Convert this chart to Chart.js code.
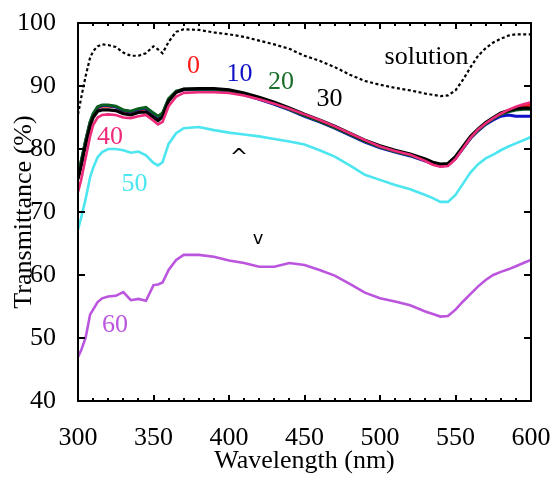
<!DOCTYPE html>
<html>
<head>
<meta charset="utf-8">
<script src="https://cdn.jsdelivr.net/npm/chart.js@4/dist/chart.umd.min.js"></script>
<style>
html,body{margin:0;padding:0;background:#fff;}
#wrap{position:relative;width:554px;height:477px;}
</style>
</head>
<body>
<div id="wrap"><canvas id="c" width="554" height="477"></canvas></div>
<script>
const wavelengths = [300,302,305,308,310,313,316,320,325,330,335,340,345,350,353,356,360,365,370,380,390,400,410,420,430,440,450,460,470,480,490,500,510,520,530,535,540,545,550,555,560,565,570,575,580,585,590,595,600];

const solution = [85.5,88,91.5,94.5,95.5,96.3,96.6,96.5,96.2,95.3,94.8,94.8,95.2,96.3,95.8,95.2,97,98.6,99,98.9,98.5,98.2,97.8,97.2,96.6,95.9,94.8,94,93,91.8,90.8,90.2,89.7,89.3,88.8,88.6,88.4,88.5,89.3,91,93,94.8,96,96.9,97.5,98,98.2,98.2,98.2];

const s0 = [75.5,77.5,81,84,85.3,86.5,86.8,86.8,86.7,86,85.8,86.2,86.4,85.5,85,85.6,87.8,89,89.4,89.4,89.4,89.2,88.7,88,87.2,86.3,85.3,84.4,83.4,82.3,81.2,80.3,79.6,79,78.2,77.7,77.4,77.5,78.6,80.2,81.8,83,84,84.8,85.5,86,86.5,86.8,87];
const s10 = [75.8,77.8,81.2,84.2,85.5,86.6,86.9,86.9,86.7,86.1,85.9,86.3,86.5,85.6,85.1,85.6,87.9,89.1,89.4,89.4,89.4,89.2,88.6,87.9,87.1,86.2,85.2,84.3,83.3,82.2,81.1,80.2,79.5,78.9,78.1,77.6,77.3,77.4,78.5,80.1,81.7,82.9,83.9,84.6,85.2,85.4,85.2,85.2,85.2];
const s20 = [76,78,81.3,84.3,85.6,86.7,87,87,86.8,86.2,86,86.4,86.6,85.7,85.2,85.7,88,89.2,89.5,89.5,89.5,89.3,88.7,88,87.2,86.3,85.3,84.4,83.4,82.3,81.2,80.3,79.6,79,78.2,77.7,77.4,77.5,78.6,80.2,81.8,83,84,84.8,85.5,85.9,86.2,86.3,86.3];
const s30 = [75.2,77.2,80.6,83.6,85,86,86.2,86.2,86.1,85.6,85.4,85.8,85.9,85,84.5,85.1,87.6,89,89.5,89.6,89.6,89.4,88.9,88.2,87.4,86.5,85.5,84.6,83.6,82.5,81.4,80.5,79.8,79.2,78.4,77.9,77.6,77.7,78.8,80.4,82,83.2,84.2,85,85.7,86.1,86.4,86.5,86.5];
const s40 = [73.2,75,78.5,82,83.8,85,85.4,85.5,85.4,85,84.9,85.2,85.4,84.5,83.9,84.3,86.8,88.3,88.9,89,89,88.9,88.5,87.9,87.2,86.4,85.5,84.6,83.6,82.5,81.4,80.4,79.7,79.1,78.1,77.5,77.2,77.3,78.4,80.1,81.8,83.1,84.1,84.9,85.6,86.2,86.7,87.1,87.4];
const s50 = [67.2,69,72,75.5,77,78.7,79.5,80,80,79.8,79.4,79.6,79,77.8,77.4,77.9,80.8,82.5,83.3,83.5,83,82.6,82.3,82,81.6,81.2,80.7,79.8,78.8,77.4,75.9,75.1,74.3,73.6,72.7,72.2,71.6,71.6,72.7,74.5,76.3,77.6,78.5,79.1,79.8,80.4,80.9,81.4,81.9];
const s60 = [47,48,50,53.7,54.5,55.7,56.3,56.6,56.7,57.3,56,56.2,55.9,58.4,58.5,58.8,60.8,62.4,63.2,63.2,62.9,62.3,61.9,61.3,61.3,61.9,61.6,60.8,59.9,58.6,57.2,56.3,55.8,55.2,54.2,53.8,53.4,53.5,54.5,55.8,57,58.2,59.2,60,60.5,60.9,61.4,61.9,62.4];

const xMin = 300, xMax = 600, yMin = 40, yMax = 100;
const xTicks = [300,350,400,450,500,550,600];
const xMinorTicks = [310,320,330,340,360,370,380,390,410,420,430,440,460,470,480,490,510,520,530,540,560,570,580,590];
const yTicks = [40,50,60,70,80,90,100];

const labelTexts = ['0','10','20','30','solution','40','50','60','^','v'];
const labelX = [376.5,407,434.4,466.6,530.8,321.2,337.4,324.5,406.6,419.2];
const labelY = [93.1,91.8,90.6,87.9,94.5,81.8,74.4,52.0,78.6,65.6];
const labelColors = ['#ff1a1a','#1010c8','#1a6e2a','#000000','#000000','#ee2a7b','#4de6f0','#bb55dd','#000000','#000000'];

function pts(vals){ return wavelengths.map((w,i)=>({x:w,y:vals[i]})); }
const frame = [{x:xMin,y:yMin},{x:xMax,y:yMin},{x:xMax,y:yMax},{x:xMin,y:yMax},{x:xMin,y:yMin}];

const serif = "'Liberation Serif','Times New Roman',serif";

const decorPlugin = {
  id:'decor',
  afterDraw(chart){
    const ctx = chart.ctx;
    const x = chart.scales.x, y = chart.scales.y;
    const L = Math.round(x.getPixelForValue(xMin));
    const R = Math.round(x.getPixelForValue(xMax));
    const T = Math.round(y.getPixelForValue(yMax));
    const B = Math.round(y.getPixelForValue(yMin));
    ctx.save();
    ctx.fillStyle = 'black';
    xTicks.forEach(v => {
      const px = Math.round(x.getPixelForValue(v));
      ctx.fillRect(px - 1, B - 6, 2, 6);
      ctx.fillRect(px - 1, T, 2, 6);
    });
    xMinorTicks.forEach(v => {
      const px = Math.round(x.getPixelForValue(v));
      ctx.fillRect(px - 1, B - 3, 2, 3);
      ctx.fillRect(px - 1, T, 2, 3);
    });
    yTicks.forEach(v => {
      const py = Math.round(y.getPixelForValue(v));
      ctx.fillRect(L, py - 1, 7, 2);
      ctx.fillRect(R - 7, py - 1, 7, 2);
    });
    ctx.textAlign = 'center';
    ctx.textBaseline = 'middle';
    labelTexts.forEach((t, i) => {
      if (t === '^') ctx.font = "22px 'DejaVu Sans',sans-serif";
      else if (t === 'v') ctx.font = "18px 'DejaVu Sans',sans-serif";
      else ctx.font = "26px " + serif;
      ctx.fillStyle = labelColors[i];
      ctx.fillText(t, x.getPixelForValue(labelX[i]), y.getPixelForValue(labelY[i]));
    });
    ctx.restore();
  }
};

const base = {fill:false, pointRadius:0, tension:0, showLine:true};
new Chart(document.getElementById('c'), {
  type:'scatter',
  data:{
    datasets:[
      Object.assign({}, base, {label:'frame', data:frame, borderColor:'#000', borderWidth:2, clip:false}),
      Object.assign({}, base, {label:'40', data:pts(s40), borderColor:'#ee2a7b', borderWidth:2.6}),
      Object.assign({}, base, {label:'30', data:pts(s30), borderColor:'#000', borderWidth:3.2}),
      Object.assign({}, base, {label:'20', data:pts(s20), borderColor:'#0a5e1e', borderWidth:3}),
      Object.assign({}, base, {label:'10', data:pts(s10), borderColor:'#1010c8', borderWidth:3}),
      Object.assign({}, base, {label:'0', data:pts(s0), borderColor:'#ff1a1a', borderWidth:3}),
      Object.assign({}, base, {label:'50', data:pts(s50), borderColor:'#4de6f0', borderWidth:2.6}),
      Object.assign({}, base, {label:'60', data:pts(s60), borderColor:'#bb55dd', borderWidth:2.6}),
      Object.assign({}, base, {label:'solution', data:pts(solution), borderColor:'#000', borderWidth:2.2, borderDash:[3,2.5]})
    ]
  },
  options:{
    responsive:false,
    animation:false,
    devicePixelRatio:1,
    layout:{padding:{top:23,right:23,left:0,bottom:0}},
    plugins:{legend:{display:false}, tooltip:{enabled:false}},
    scales:{
      x:{
        type:'linear', min:xMin, max:xMax,
        afterBuildTicks(s){ s.ticks = xTicks.map(v=>({value:v})); },
        afterFit(s){ s.height = 76; s.paddingLeft = 0; s.paddingRight = 0; },
        grid:{display:false},
        border:{display:true, color:'#000', width:2},
        ticks:{font:{family:serif,size:26}, color:'#000', padding:14, maxRotation:0, autoSkip:false},
        title:{display:true, text:'Wavelength (nm)', font:{family:serif,size:26}, color:'#000', padding:{top:0,bottom:0}}
      },
      y:{
        type:'linear', min:yMin, max:yMax,
        afterBuildTicks(s){ s.ticks = yTicks.map(v=>({value:v})); },
        afterFit(s){ s.width = 78; s.paddingTop = 0; s.paddingBottom = 0; },
        grid:{display:false},
        border:{display:true, color:'#000', width:2},
        ticks:{font:{family:serif,size:26}, color:'#000', padding:14, autoSkip:false},
        title:{display:true, text:'Transmittance (%)', font:{family:serif,size:26}, color:'#000', padding:{top:9,bottom:0}}
      }
    }
  },
  plugins:[decorPlugin]
});
</script>
</body>
</html>
